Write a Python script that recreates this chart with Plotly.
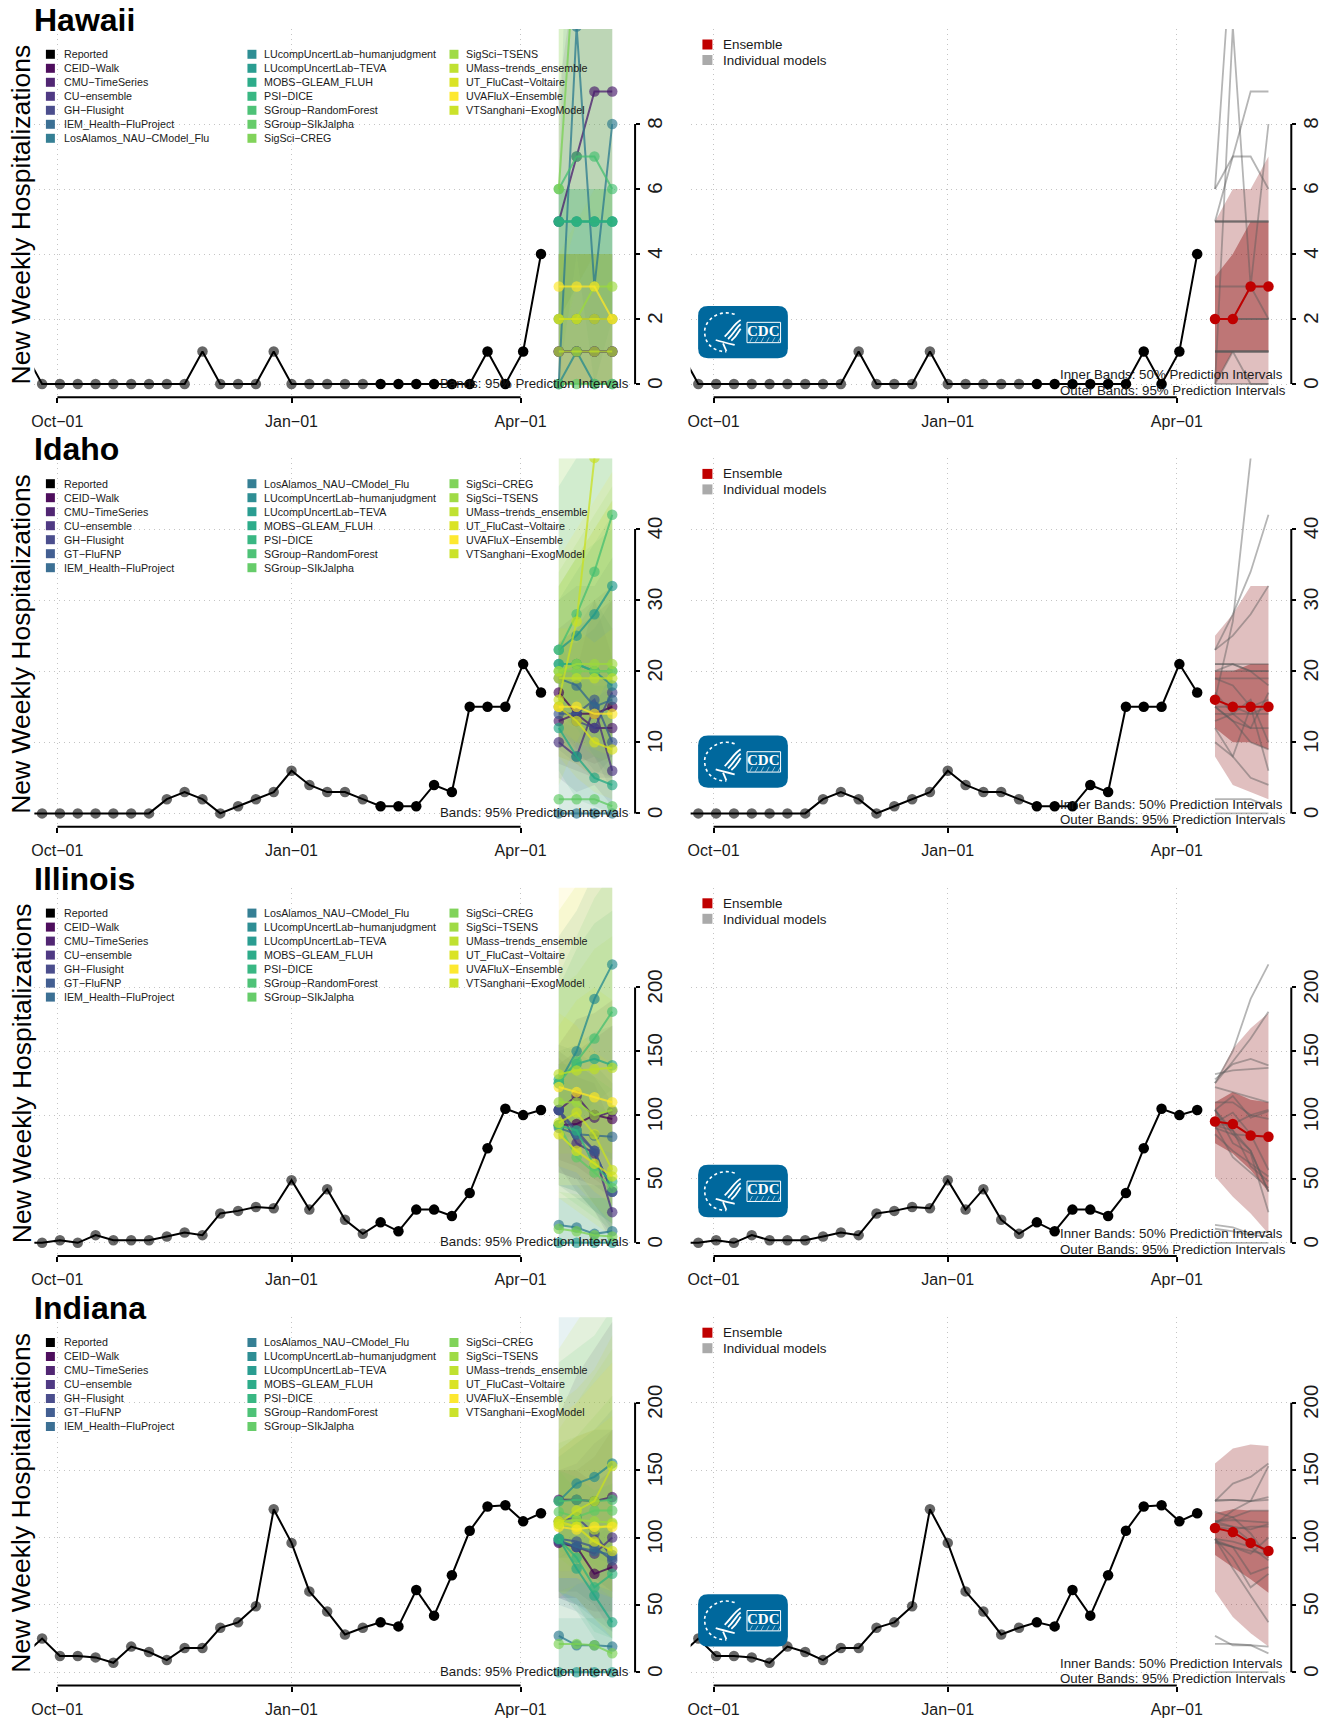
import pandas as pd
import plotly.graph_objects as go

W, H = 1331, 1720

STATES = ["Hawaii", "Idaho", "Illinois", "Indiana"]
REPORTED_LABEL = "Reported"
ALL_MODELS = ["CEID\u2212Walk", "CMU\u2212TimeSeries", "CU\u2212ensemble", "GH\u2212Flusight", "GT\u2212FluFNP",
              "IEM_Health\u2212FluProject", "LosAlamos_NAU\u2212CModel_Flu", "LUcompUncertLab\u2212humanjudgment",
              "LUcompUncertLab\u2212TEVA", "MOBS\u2212GLEAM_FLUH", "PSI\u2212DICE", "SGroup\u2212RandomForest",
              "SGroup\u2212SIkJalpha", "SigSci\u2212CREG", "SigSci\u2212TSENS", "UMass\u2212trends_ensemble",
              "UT_FluCast\u2212Voltaire", "UVAFluX\u2212Ensemble", "VTSanghani\u2212ExogModel"]
MODEL_COLORS = ["#440154", "#481a6c", "#472f7d", "#414487", "#39568c", "#31688e", "#2a788e", "#23888e",
                "#1f988b", "#22a884", "#2eb37c", "#44bf70", "#5ec962", "#7ad151", "#9bd93c", "#bddf26",
                "#d8e219", "#fde725", "#c8e020"]
HAWAII_SKIP = ["GT\u2212FluFNP"]

OBS_DATES = pd.date_range("2022-09-18", periods=30, freq="7D")
FC_DATES = pd.date_range("2023-04-16", periods=4, freq="7D")
FIRST_SOLID = 20   # reported points from this index on are solid black

HAWAII_REPORTED = [1, 0, 0, 0, 0, 0, 0, 0, 0, 0, 1, 0, 0, 0, 1, 0, 0, 0, 0, 0, 0, 0, 0, 0, 0, 0, 1, 0, 1, 4]
IDAHO_REPORTED = [0, 0, 0, 0, 0, 0, 0, 0, 2, 3, 2, 0, 1, 2, 3, 6, 4, 3, 3, 2, 1, 1, 1, 4, 3, 15, 15, 15, 21, 17]
ILLINOIS_REPORTED = [0, 0, 2, 0, 6, 2, 2, 2, 5, 8, 6, 23, 25, 28, 27, 49, 26, 42, 18, 7, 16, 9, 26, 26, 21, 39, 74, 105, 100, 104]
INDIANA_REPORTED = [13, 25, 12, 12, 11, 7, 19, 15, 9, 18, 18, 33, 37, 49, 121, 96, 60, 45, 28, 33, 37, 34, 61, 42, 72, 105, 123, 124, 112, 118]

HAWAII_MEDIAN = [[1, 1, 1, 1], [5, 7, 9, 9], [1, 1, 1, 1], [1, 1, 1, 1], [2, 2, 2, 2], [0, 11, 3, 8], [0, 1, 0, 0],
                 [5, 5, 5, 5], [5, 5, 5, 5], [5, 5, 5, 5], [6, 7, 7, 6], [0, 0, 0, 0], [6, 14, 16, 17], [2, 2, 3, 3],
                 [1, 1, 1, 1], [2, 2, 2, 2], [3, 3, 3, 2], [11.2, 14, 15, 16]]
HAWAII_LOWER = [[0, 0, 0, 0], [2, 3, 4, 4], [0, 0, 0, 0], [0, 0, 0, 0], [0, 0, 0, 0], [0, 4, 0, 2], [0, 0, 0, 0],
                [2, 2, 2, 2], [1, 1, 1, 1], [1, 1, 0, 0], [2, 3, 3, 2], [0, 0, 0, 0], [1, 3, 4, 4], [0, 0, 0, 0],
                [0, 0, 0, 0], [0, 0, 0, 0], [0, 0, 0, 0], [3, 5, 5, 5]]
HAWAII_UPPER = [[4, 4, 4, 4], [9, 13, 16, 17], [4, 4, 4, 4], [4, 4, 4, 4], [4, 4, 4, 4], [6, 25, 12, 20], [4, 4, 4, 4],
                [6, 6, 6, 6], [6, 6, 6, 6], [6, 6, 6, 6], [12, 14, 14, 13], [4, 4, 4, 4], [15, 30, 35, 40],
                [4, 5, 6, 6], [4, 4, 4, 4], [4, 4, 4, 4], [4, 4, 4, 4], [25, 30, 35, 40]]

IDAHO_MEDIAN = [[17, 14, 14, 15], [13, 14, 12, 12], [10, 8, 15, 6], [15, 13, 12, 17], [14, 14, 16, 10], [19, 18, 15, 16],
                [0, 0, 0, 0], [21, 21, 20, 18], [23, 25, 28, 32], [12, 8, 5, 4], [21, 21, 20, 20], [23, 28, 34, 42],
                [2, 2, 2, 1], [20, 20, 20, 20], [20, 21, 21, 21], [19, 19, 19, 19], [15, 13, 10, 9], [15, 15, 14, 14],
                [16, 27, 50, 80]]
IDAHO_LOWER = [[10, 8, 7, 8], [7, 6, 5, 5], [5, 3, 4, 1], [9, 7, 5, 8], [8, 7, 8, 3], [12, 9, 6, 5], [0, 0, 0, 0],
               [14, 12, 8, 5], [15, 14, 14, 13], [6, 2, 1, 0], [14, 13, 11, 9], [15, 16, 17, 18], [0, 0, 0, 0],
               [11, 10, 8, 7], [13, 12, 11, 9], [12, 10, 9, 8], [8, 5, 3, 2], [8, 7, 5, 4], [4, 10, 15, 20]]
IDAHO_UPPER = [[26, 28, 30, 32], [24, 26, 28, 30], [20, 20, 30, 22], [24, 24, 26, 30], [24, 26, 30, 26], [30, 32, 32, 36],
               [12, 14, 16, 18], [30, 34, 38, 42], [46, 50, 56, 64], [24, 20, 18, 18], [32, 36, 38, 40], [55, 62, 70, 80],
               [12, 14, 14, 12], [34, 38, 42, 46], [32, 36, 40, 44], [32, 36, 40, 44], [26, 26, 24, 26], [36, 40, 44, 48],
               [80, 90, 110, 150]]

ILLINOIS_MEDIAN = [[92, 93, 100, 97], [104, 115, 98, 103], [104, 78, 70, 24], [104, 88, 72, 40], [104, 85, 72, 40],
                   [90, 85, 84, 83], [14, 12, 7, 9], [125, 150, 191, 218], [0, 0, 0, 0], [128, 140, 144, 139],
                   [92, 88, 60, 48], [125, 142, 160, 181], [92, 67, 55, 43], [11, 9, 6, 5], [110, 110, 100, 104],
                   [132, 135, 136, 137], [85, 72, 62, 52], [122, 118, 114, 110], [94, 102, 85, 57]]
ILLINOIS_LOWER = [[55, 50, 45, 35], [65, 60, 50, 40], [60, 40, 25, 0], [55, 50, 30, 10], [45, 40, 25, 5], [45, 35, 25, 15],
                  [0, 0, 0, 0], [80, 95, 110, 120], [0, 0, 0, 0], [80, 85, 75, 65], [45, 40, 25, 15], [85, 95, 100, 105],
                  [40, 30, 20, 10], [0, 0, 0, 0], [70, 70, 55, 50], [85, 85, 75, 70], [35, 25, 15, 5], [60, 55, 40, 30],
                  [45, 45, 30, 15]]
ILLINOIS_UPPER = [[140, 150, 160, 170], [155, 175, 180, 190], [145, 130, 125, 90], [150, 140, 130, 110], [155, 150, 140, 125],
                  [150, 155, 165, 170], [45, 45, 45, 45], [240, 260, 290, 330], [35, 35, 35, 35], [200, 230, 250, 260],
                  [140, 140, 130, 120], [210, 240, 270, 290], [130, 120, 110, 100], [40, 38, 35, 35], [200, 210, 230, 240],
                  [260, 280, 300, 330], [180, 170, 150, 140], [330, 340, 350, 360], [170, 190, 200, 190]]

INDIANA_MEDIAN = [[96, 93, 73, 78], [128, 128, 127, 130], [97, 93, 88, 100], [112, 115, 103, 85], [99, 97, 93, 83],
                  [98, 93, 90, 87], [27, 20, 20, 19], [127, 140, 145, 155], [0, 0, 0, 0], [99, 77, 57, 37],
                  [99, 85, 63, 73], [127, 128, 127, 128], [119, 115, 120, 120], [21, 21, 20, 14], [112, 113, 112, 111],
                  [110, 108, 106, 110], [112, 108, 97, 90], [108, 106, 108, 108], [110, 120, 127, 153]]
INDIANA_LOWER = [[55, 55, 40, 40], [85, 85, 70, 60], [55, 50, 45, 45], [60, 60, 50, 30], [55, 50, 40, 30], [50, 45, 35, 25],
                 [0, 0, 0, 0], [85, 90, 85, 80], [0, 0, 0, 0], [60, 45, 25, 10], [60, 50, 30, 25], [90, 85, 80, 70],
                 [85, 75, 70, 60], [0, 0, 0, 0], [75, 75, 65, 55], [70, 70, 60, 55], [60, 55, 40, 25], [70, 70, 65, 60],
                 [55, 65, 70, 85]]
INDIANA_UPPER = [[150, 150, 140, 150], [190, 220, 240, 260], [150, 150, 160, 180], [165, 175, 180, 180], [150, 155, 170, 180],
                 [160, 170, 180, 195], [85, 95, 100, 110], [270, 300, 320, 340], [40, 40, 40, 40], [150, 135, 115, 100],
                 [150, 145, 135, 140], [230, 240, 250, 270], [170, 175, 190, 205], [60, 65, 70, 60], [180, 200, 220, 240],
                 [200, 210, 225, 250], [165, 175, 180, 190], [190, 200, 215, 230], [240, 260, 280, 300]]

HAWAII_ENSEMBLE = [[2, 2, 3, 3], [0, 1, 1, 1], [3.3, 4, 5, 5], [0, 0, 0, 0], [5, 6, 6, 7]]
IDAHO_ENSEMBLE = [[16, 15, 15, 15], [12, 10, 10, 9], [20, 20, 21, 21], [8, 4, 3, 2], [25, 28, 32, 32]]
ILLINOIS_ENSEMBLE = [[95, 93, 84, 83], [78, 70, 57, 40], [110, 118, 112, 110], [52, 36, 23, 7], [125, 152, 168, 180]]
INDIANA_ENSEMBLE = [[107, 104, 96, 90], [87, 78, 69, 59], [118, 121, 120, 120], [60, 41, 29, 19], [155, 166, 169, 168]]

Y_TICKS = [[0, 2, 4, 6, 8], [0, 10, 20, 30, 40], [0, 50, 100, 150, 200], [0, 50, 100, 150, 200]]
Y_SCALES = [32.5, 7.11, 1.277, 1.347]  # px per unit in each row

X_TICK_DATES = ["2022-10-01", "2023-01-01", "2023-04-01"]
X_TICK_TEXT = ["Oct\u221201", "Jan\u221201", "Apr\u221201"]

Y_LABEL = "New Weekly Hospitalizations"
BANDS_LEFT = "Bands: 95% Prediction Intervals"
BANDS_INNER = "Inner Bands: 50% Prediction Intervals"
BANDS_OUTER = "Outer Bands: 95% Prediction Intervals"

FONT = "Liberation Sans"
ROW_STEP = 429.4
PLOT_TOP, AXIS_BOTTOM, ZERO_Y = 29.0, 397.3, 384.0
COL_LEFT = [31.5, 689.2]
PLOT_W = 602.0
DAY0 = pd.Timestamp("2022-10-01")
RANGE = [DAY0 + pd.Timedelta(days=-9.016), DAY0 + pd.Timedelta(days=226.97)]
GRID_DASH = "1px,4px"
GRID_COLOR = "#c4c4c4"


def px(x):
    return x / W


def py(y):
    return 1 - y / H


def rgba(hexc, a):
    h = hexc.lstrip("#")
    return f"rgba({int(h[0:2],16)},{int(h[2:4],16)},{int(h[4:6],16)},{a})"


fig = go.Figure()
shapes, annots = [], []


def text(x, y, s, size, color="#1a1a1a", anchor="left", family=FONT, angle=0):
    annots.append(dict(x=px(x), y=py(y), xref="paper", yref="paper", text=s, showarrow=False, xanchor=anchor,
                       yanchor="middle", font=dict(family=family, size=size, color=color), textangle=angle,
                       borderpad=0, borderwidth=0))


def swatch(x, y, size, color):
    shapes.append(dict(type="rect", xref="paper", yref="paper", x0=px(x), x1=px(x + size), y0=py(y - size / 2),
                       y1=py(y + size / 2), fillcolor=color, line=dict(width=0), layer="above"))


def logo(row):
    ox, oy = 680.0, 290.0 + row * ROW_STEP
    z = lambda a, b: f"{px(ox + a / 3):.5f},{py(oy + b / 3):.5f}"
    r = 30
    x0, x1, y0, y1 = 50, 320, 48, 205
    path = (f"M {z(x0 + r, y0)} L {z(x1 - r, y0)} Q {z(x1, y0)} {z(x1, y0 + r)} L {z(x1, y1 - r)} Q {z(x1, y1)} {z(x1 - r, y1)} "
            f"L {z(x0 + r, y1)} Q {z(x0, y1)} {z(x0, y1 - r)} L {z(x0, y0 + r)} Q {z(x0, y0)} {z(x0 + r, y0)} Z")
    shapes.append(dict(type="path", xref="paper", yref="paper", path=path, fillcolor="#00689d", line=dict(width=0), layer="above"))
    white = dict(color="white", width=1.8)
    for p in [f"M {z(178, 90)} C {z(160, 100)} {z(150, 120)} {z(130, 140)}",
              f"M {z(178, 103)} C {z(165, 112)} {z(158, 130)} {z(140, 147)}",
              f"M {z(178, 116)} C {z(172, 125)} {z(165, 140)} {z(150, 152)}",
              f"M {z(103, 150)} C {z(120, 155)} {z(140, 160)} {z(160, 165)}",
              f"M {z(125, 160)} L {z(135, 183)}"]:
        shapes.append(dict(type="path", xref="paper", yref="paper", path=p, line=white, layer="above"))
    shapes.append(dict(type="path", xref="paper", yref="paper", layer="above",
                       path=f"M {z(160, 73)} C {z(110, 55)} {z(65, 95)} {z(70, 130)} C {z(72, 165)} {z(100, 185)} {z(135, 185)}",
                       line=dict(color="white", width=1.6, dash="dot")))
    shapes.append(dict(type="rect", xref="paper", yref="paper", layer="above", x0=px(ox + 197 / 3), x1=px(ox + 298 / 3),
                       y0=py(oy + 97 / 3), y1=py(oy + 158 / 3), line=dict(color="white", width=1), fillcolor="rgba(0,0,0,0)"))
    for k in range(6):
        a = 205 + k * 17
        shapes.append(dict(type="path", xref="paper", yref="paper", layer="above",
                           path=f"M {z(a, 157)} L {z(a + 8, 142)}", line=dict(color="rgba(255,255,255,0.7)", width=0.8)))
    annots.append(dict(x=px(ox + 248 / 3), y=py(oy + 122 / 3), xref="paper", yref="paper", text="<b>CDC</b>", showarrow=False,
                       xanchor="center", yanchor="middle", font=dict(family="Liberation Serif", size=15, color="white")))


def reported(axis, values):
    xa, ya = axis
    cols = ["rgba(0,0,0,0.6)" if i < FIRST_SOLID else "black" for i in range(len(values))]
    fig.add_trace(go.Scatter(x=OBS_DATES, y=values, mode="markers", xaxis=xa, yaxis=ya, hoverinfo="skip",
                             marker=dict(color=cols, size=10.5, line=dict(width=0)), showlegend=False))
    fig.add_trace(go.Scatter(x=OBS_DATES, y=values, mode="lines", xaxis=xa, yaxis=ya, hoverinfo="skip",
                             line=dict(color="black", width=2), showlegend=False))


def band(axis, lo, hi, color):
    xa, ya = axis
    xs = list(FC_DATES) + list(FC_DATES)[::-1]
    ys = list(hi) + list(lo)[::-1]
    fig.add_trace(go.Scatter(x=xs, y=ys, mode="lines", fill="toself", fillcolor=color, line=dict(width=0),
                             xaxis=xa, yaxis=ya, hoverinfo="skip", showlegend=False))


DATA = [(HAWAII_REPORTED, HAWAII_MEDIAN, HAWAII_LOWER, HAWAII_UPPER, HAWAII_ENSEMBLE),
        (IDAHO_REPORTED, IDAHO_MEDIAN, IDAHO_LOWER, IDAHO_UPPER, IDAHO_ENSEMBLE),
        (ILLINOIS_REPORTED, ILLINOIS_MEDIAN, ILLINOIS_LOWER, ILLINOIS_UPPER, ILLINOIS_ENSEMBLE),
        (INDIANA_REPORTED, INDIANA_MEDIAN, INDIANA_LOWER, INDIANA_UPPER, INDIANA_ENSEMBLE)]


def axid(letter, n):
    return letter if n == 1 else f"{letter}{n}"


layout_axes = {}
for row, (state, (rep, med, low, upp, ens)) in enumerate(zip(STATES, DATA)):
    dy = row * ROW_STEP
    scale = Y_SCALES[row]
    yr = [-(AXIS_BOTTOM - ZERO_Y) / scale, (ZERO_Y - PLOT_TOP) / scale]
    names = [m for m in ALL_MODELS if not (row == 0 and m in HAWAII_SKIP)]
    cols = [MODEL_COLORS[ALL_MODELS.index(m)] for m in names]
    for col in range(2):
        n = row * 2 + col + 1
        xn, yn = axid("x", n), axid("y", n)
        layout_axes[f"xaxis{n}"] = dict(
            domain=[px(COL_LEFT[col]), px(COL_LEFT[col] + PLOT_W)], range=RANGE, type="date", anchor=yn,
            tickmode="array", tickvals=X_TICK_DATES, ticktext=X_TICK_TEXT, ticks="outside", ticklen=5, tickwidth=1.5,
            tickcolor="black", showline=False, zeroline=False, showgrid=True, gridcolor=GRID_COLOR, griddash=GRID_DASH,
            gridwidth=1, tickfont=dict(family=FONT, size=16, color="#1a1a1a"), tickangle=0, ticklabelstandoff=4)
        layout_axes[f"yaxis{n}"] = dict(
            domain=[py(AXIS_BOTTOM + dy), py(PLOT_TOP + dy)], range=yr, anchor=xn, side="right",
            tickmode="array", tickvals=Y_TICKS[row], ticktext=[str(v) for v in Y_TICKS[row]], ticks="outside",
            ticklen=4, tickwidth=1.5, tickcolor="black", showline=False, zeroline=False, showgrid=True,
            gridcolor=GRID_COLOR, griddash=GRID_DASH, gridwidth=1, tickangle=-90,
            tickfont=dict(family=FONT, size=20.5, color="#1a1a1a"), ticklabelstandoff=-3, ticklabelshift=2)
        shapes.append(dict(type="line", xref=xn, yref=f"{yn} domain", x0=X_TICK_DATES[0], x1=X_TICK_DATES[-1], y0=0, y1=0,
                           line=dict(color="black", width=2), layer="above"))
        shapes.append(dict(type="line", xref=f"{xn} domain", yref=yn, x0=1, x1=1, y0=Y_TICKS[row][0], y1=Y_TICKS[row][-1],
                           line=dict(color="black", width=2), layer="above"))
    # left panel: every model
    ax = (axid("x", row * 2 + 1), axid("y", row * 2 + 1))
    for c, lo, hi in zip(cols, low, upp):
        band(ax, lo, hi, rgba(c, 0.11))
    reported(ax, rep)
    for name, c, m in zip(names, cols, med):
        fig.add_trace(go.Scatter(x=FC_DATES, y=m, mode="lines+markers", name=name, xaxis=ax[0], yaxis=ax[1], hoverinfo="skip",
                                 line=dict(color=rgba(c, 0.75), width=2), marker=dict(color=rgba(c, 0.65), size=10.5, line=dict(width=0)),
                                 showlegend=False))
    # right panel: ensemble
    ax = (axid("x", row * 2 + 2), axid("y", row * 2 + 2))
    band(ax, ens[3], ens[4], "rgba(133,0,0,0.25)")
    band(ax, ens[1], ens[2], "rgba(133,0,0,0.38)")
    reported(ax, rep)
    for m in med:
        fig.add_trace(go.Scatter(x=FC_DATES, y=m, mode="lines", xaxis=ax[0], yaxis=ax[1], hoverinfo="skip",
                                 line=dict(color="rgba(90,90,90,0.45)", width=1.8), showlegend=False))
    fig.add_trace(go.Scatter(x=FC_DATES, y=ens[0], mode="lines+markers", xaxis=ax[0], yaxis=ax[1], hoverinfo="skip",
                             line=dict(color="#C00000", width=2), marker=dict(color="#C00000", size=10.5), showlegend=False))

    # texts
    text(31.5, 20 + dy, f"<b>{state}</b>", 32, color="black")
    text(18.5, 214 + dy, Y_LABEL, 26.5, color="black", anchor="center", angle=-90)
    # legend left
    entries = [(REPORTED_LABEL, "#000000")] + list(zip(names, [rgba(c, 0.95) for c in cols]))
    for i, (nm, c) in enumerate(entries):
        cx = i // 7
        ly = 54.3 + dy + (i % 7) * 14
        swatch([43, 245, 447.5][cx], ly, 9, c)
        text([60.7, 262, 464.5][cx], ly, nm, 10.7)
    text(627.5, 383 + dy, BANDS_LEFT, 13.3, anchor="right")
    # legend right
    swatch(701, 44.5 + dy, 10, "#C00000")
    swatch(701, 60 + dy, 10, "#aaaaaa")
    text(721.5, 44.5 + dy, "Ensemble", 13.4)
    text(721.5, 60.5 + dy, "Individual models", 13.4)
    text(1059.5, 375 + dy, BANDS_INNER, 13.3)
    text(1059.5, 390.5 + dy, BANDS_OUTER, 13.3)
    logo(row)

fig.update_layout(width=W, height=H, margin=dict(l=0, r=0, t=0, b=0), autosize=False, showlegend=False,
                  paper_bgcolor="white", plot_bgcolor="white", shapes=shapes, annotations=annots,
                  font=dict(family=FONT), **layout_axes)
fig.write_html("out.html", config=dict(displayModeBar=False), post_script="document.body.style.margin='0';")
